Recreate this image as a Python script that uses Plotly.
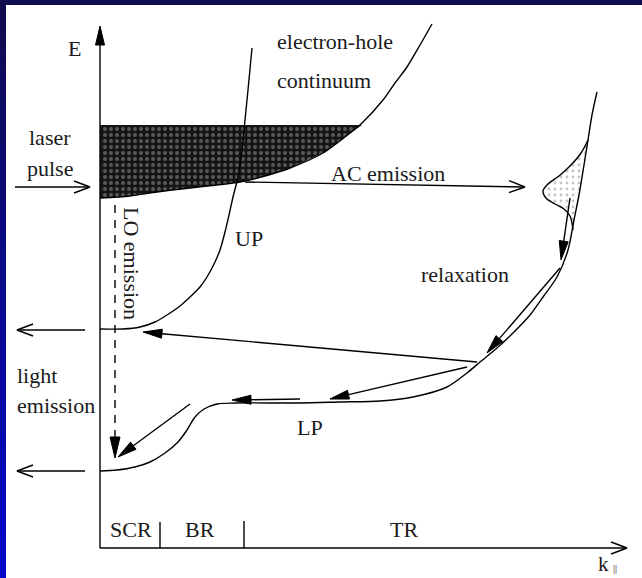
import numpy as np
import plotly.graph_objects as go

# ---- dispersion curves (k in px-like units from the origin, E upward) ----
lp_k = [0, 17, 35, 50, 65, 78, 87, 95, 104, 117, 135, 200, 240, 280, 313, 347, 367,
        380, 397, 413, 430, 443, 457, 468, 474, 479, 484, 488, 492, 497]
lp_e = [77, 78, 81, 86, 95, 106, 118, 131, 139, 144, 145, 145, 146, 147, 151, 161, 175,
        186, 200, 215, 233, 251, 271, 298, 328, 353, 383, 408, 433, 456]

up_k = [0, 23, 40, 55, 67, 80, 90, 100, 107, 115, 120, 125, 129, 133, 138, 142, 145, 148, 152]
up_e = [219, 219, 221, 226, 233, 242, 251, 261, 271, 286, 298, 316, 333, 351, 371, 398, 428, 458, 500]

cont_k = [0, 30, 57, 90, 117, 140, 165, 190, 223, 250, 262, 283, 295, 307, 320, 332]
cont_e = [350, 352, 356, 360, 363, 366, 372, 380, 395, 415, 425, 448, 465, 481, 503, 524]
pump_top = 423  # upper edge of the optically excited band

# acoustic-phonon-fed population on the LP
gauss_k = [488, 481, 471, 459, 448, 443, 446, 455, 464, 470, 473]
gauss_e = [408, 395, 383, 372, 364, 357, 350, 344, 339, 332, 318]

# region boundaries on the k axis
region_edges = [60, 144]
region_names = ["SCR", "BR", "TR"]
region_label_k = [31, 100, 304]

# arrows: (k0, E0, k1, E1, head type)
arrows = [
    (0, 0, 0, 522, "filled"),        # E axis
    (0, 0, 527, 0, "open"),          # k axis
    (-85, 361, -10, 361, "open"),    # laser pulse
    (-15, 218, -83, 218, "open"),    # light emission (UP)
    (-15, 77, -83, 77, "open"),      # light emission (LP)
    (145, 366, 425, 361, "open"),    # AC emission
    (470, 350, 461, 288, "filled"),  # down from the hot population
    (460, 280, 387, 195, "filled"),  # relaxation
    (377, 186, 43, 216, "filled"),   # scattering to UP bottom
    (367, 181, 230, 149, "filled"),  # scattering to LP plateau
    (200, 149, 132, 148, "filled"),  # along the bottleneck
    (90, 144, 18, 91, "filled"),     # into the LP bottom
]
lo_arrow = (15, 343, 15, 90)         # LO emission (dashed)

fig = go.Figure()
INK = "black"
LW = 1.4

# shaded electron-hole band
idx = [i for i, e in enumerate(cont_e) if e <= pump_top]
band_k = [cont_k[i] for i in idx] + [262, 0]
band_e = [cont_e[i] for i in idx] + [pump_top, pump_top]
fig.add_trace(go.Scatter(
    x=band_k, y=band_e, mode="lines", fill="toself", line=dict(width=0),
    fillcolor="#111111",
    fillpattern=dict(shape=".", fgcolor="#9c9c9c", bgcolor="#151515", size=6, solidity=0.35),
    hoverinfo="skip", showlegend=False))

# hot population on the LP
fig.add_trace(go.Scatter(
    x=gauss_k, y=gauss_e, mode="lines", fill="toself",
    line=dict(color=INK, width=LW, shape="spline"),
    fillcolor="white",
    fillpattern=dict(shape=".", fgcolor="#8a8a8a", bgcolor="white", size=6, solidity=0.18),
    hoverinfo="skip", showlegend=False))

for xs, ys in [(lp_k, lp_e), (up_k, up_e), (cont_k, cont_e)]:
    fig.add_trace(go.Scatter(x=xs, y=ys, mode="lines",
                             line=dict(color=INK, width=LW, shape="spline", smoothing=0.8),
                             hoverinfo="skip", showlegend=False))

# region tick marks
for kk, h in zip(region_edges, [26, 27]):
    fig.add_trace(go.Scatter(x=[kk, kk], y=[0, h], mode="lines",
                             line=dict(color=INK, width=LW), hoverinfo="skip", showlegend=False))


def draw_arrow(k0, e0, k1, e1, head, dash=None, L=19, W=9):
    v = np.array([k1 - k0, e1 - e0], float)
    u = v / np.hypot(*v)
    n = np.array([-u[1], u[0]])
    tip = np.array([k1, e1], float)
    base = tip - L * u
    end = base if head == "filled" else tip
    fig.add_trace(go.Scatter(x=[k0, end[0]], y=[e0, end[1]], mode="lines",
                             line=dict(color=INK, width=LW, dash=dash),
                             hoverinfo="skip", showlegend=False))
    if head == "filled":
        p1 = base + n * W / 2
        p2 = base - n * W / 2
        fig.add_trace(go.Scatter(x=[tip[0], p1[0], p2[0], tip[0]],
                                 y=[tip[1], p1[1], p2[1], tip[1]],
                                 mode="lines", fill="toself", fillcolor=INK,
                                 line=dict(color=INK, width=1),
                                 hoverinfo="skip", showlegend=False))
    else:
        b1 = tip - 16 * u + n * 6
        b2 = tip - 16 * u - n * 6
        fig.add_trace(go.Scatter(x=[b1[0], tip[0], b2[0]], y=[b1[1], tip[1], b2[1]],
                                 mode="lines", line=dict(color=INK, width=LW),
                                 hoverinfo="skip", showlegend=False))


for a in arrows:
    draw_arrow(*a)
draw_arrow(*lo_arrow, head="filled", dash="8px,7px", L=21, W=10)

FONT = dict(family="Liberation Serif", size=22, color="#1a1a1a")


def label(k, e, text, xanchor="center", angle=0, size=None):
    f = dict(FONT)
    if size:
        f["size"] = size
    fig.add_annotation(x=k, y=e, text=text, showarrow=False, xanchor=xanchor,
                       yanchor="middle", textangle=angle, font=f)


label(-26, 500, "E")
label(175, 507, "electron-hole", xanchor="left")
label(175, 468, "continuum", xanchor="left")
label(-50, 411, "laser")
label(-50, 380, "pulse")
label(288, 375, "AC emission")
label(32, 285, "LO emission", angle=90)
label(133, 310, "UP", xanchor="left")
label(365, 274, "relaxation")
label(-85, 173, "light", xanchor="left")
label(-85, 143, "emission", xanchor="left")
label(210, 121, "LP")
for kk, name in zip(region_label_k, region_names):
    label(kk, 19, name)
label(503, -16, "k", size=21)
label(515, -20, "||", size=10)

# slide frame
shapes = []
n_steps = 40
for i in range(n_steps):
    t = i / (n_steps - 1)
    r = int(16 + (8 - 16) * t)
    g = int(12 + (8 - 12) * t)
    b = int(78 + (205 - 78) * t)
    shapes.append(dict(type="rect", xref="paper", yref="paper",
                       x0=0, x1=6 / 642,
                       y0=max(0, 1 - (i + 1.6) / n_steps), y1=1 - i / n_steps,
                       fillcolor=f"rgb({r},{g},{b})", line=dict(width=0), layer="above"))
shapes.append(dict(type="rect", xref="paper", yref="paper", x0=0, x1=1,
                   y0=1 - 5 / 578, y1=1, fillcolor="#0e0c4e", line=dict(width=0), layer="above"))

fig.update_layout(
    width=642, height=578, margin=dict(l=0, r=0, t=0, b=0),
    paper_bgcolor="white", plot_bgcolor="white", showlegend=False,
    xaxis=dict(range=[-100, 542], visible=False, fixedrange=True),
    yaxis=dict(range=[-30, 548], visible=False, fixedrange=True),
    shapes=shapes,
)

fig.write_html("out.html")
